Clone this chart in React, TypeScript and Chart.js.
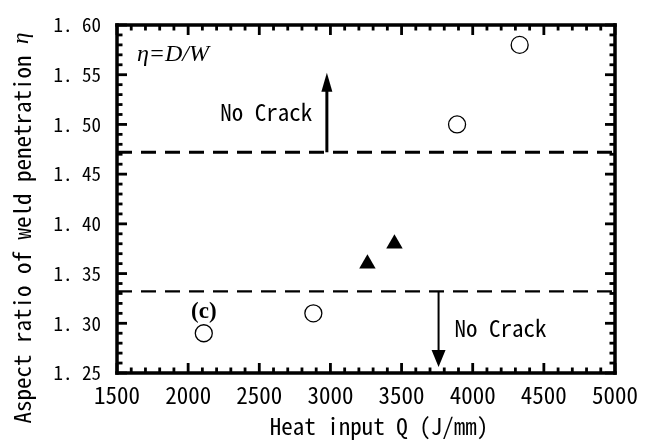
import React, { useEffect, useRef } from "react";
import { Chart, registerables } from "chart.js";

Chart.register(...registerables);

// Heat input Q (J/mm) and aspect ratio η = D/W
const crackFreeQ = [2110, 2880, 3890, 4330];
const crackFreeEta = [1.29, 1.31, 1.5, 1.58];
const crackedQ = [3260, 3450];
const crackedEta = [1.36, 1.38];

// Crack-free limits of η
const upperLimit = 1.472;
const lowerLimit = 1.332;

const xMin = 1500;
const xMax = 5000;
const yMin = 1.25;
const yMax = 1.6;

const MONO = "'Noto Sans Mono CJK JP'";
const SERIF = "'Liberation Serif'";

const overlay = {
  id: "overlay",
  afterDatasetsDraw(chart: any) {
    const { ctx, chartArea: a, scales } = chart;
    const x = scales.x;
    const y = scales.y;
    ctx.save();
    ctx.strokeStyle = "#000";
    ctx.fillStyle = "#000";

    // threshold lines
    const yu = y.getPixelForValue(upperLimit);
    const yl = y.getPixelForValue(lowerLimit);
    ctx.setLineDash([15, 9]);
    ctx.lineWidth = 3;
    ctx.beginPath();
    ctx.moveTo(a.left, yu);
    ctx.lineTo(a.right, yu);
    ctx.stroke();
    ctx.lineWidth = 2.2;
    ctx.beginPath();
    ctx.moveTo(a.left, yl);
    ctx.lineTo(a.right, yl);
    ctx.stroke();
    ctx.setLineDash([]);

    // arrows
    const arrow = (xv: number, from: number, to: number, lw: number, hw: number, hh: number) => {
      const px = x.getPixelForValue(xv);
      const p0 = y.getPixelForValue(from);
      const p1 = y.getPixelForValue(to);
      const dir = p1 < p0 ? 1 : -1;
      ctx.lineWidth = lw;
      ctx.beginPath();
      ctx.moveTo(px, p0);
      ctx.lineTo(px, p1 + dir * hh * 0.8);
      ctx.stroke();
      ctx.beginPath();
      ctx.moveTo(px, p1);
      ctx.lineTo(px - hw / 2, p1 + dir * hh);
      ctx.lineTo(px + hw / 2, p1 + dir * hh);
      ctx.closePath();
      ctx.fill();
    };
    arrow(2975, upperLimit, 1.552, 3, 11, 19);
    arrow(3760, lowerLimit, 1.256, 2, 14, 17);

    // frame
    const fw = 3.5;
    ctx.fillRect(a.left - fw / 2, a.top - fw / 2, a.right - a.left + fw, fw);
    ctx.fillRect(a.left - fw / 2, a.bottom - fw / 2, a.right - a.left + fw, fw);
    ctx.fillRect(a.left - fw / 2, a.top - fw / 2, fw, a.bottom - a.top + fw);
    ctx.fillRect(a.right - fw / 2, a.top - fw / 2, fw, a.bottom - a.top + fw);

    // inward ticks on all four sides
    const tw = 2.8;
    for (let v = xMin; v <= xMax + 1e-6; v += 100) {
      const px = x.getPixelForValue(v);
      const len = Math.round(v) % 500 === 0 ? 10 : 5.5;
      ctx.fillRect(px - tw / 2, a.bottom - len, tw, len);
      ctx.fillRect(px - tw / 2, a.top, tw, len);
    }
    for (let i = 0; i <= Math.round((yMax - yMin) / 0.01); i++) {
      const py = y.getPixelForValue(yMin + i * 0.01);
      const len = i % 5 === 0 ? 10 : 5.5;
      ctx.fillRect(a.left, py - tw / 2, len, tw);
      ctx.fillRect(a.right - len, py - tw / 2, len, tw);
    }

    // annotations
    ctx.font = `23px ${MONO}`;
    ctx.textBaseline = "middle";
    ctx.textAlign = "right";
    ctx.fillText("No Crack", x.getPixelForValue(2872), y.getPixelForValue(1.5125));
    ctx.textAlign = "left";
    ctx.fillText("No Crack", x.getPixelForValue(3872), y.getPixelForValue(1.295));

    ctx.textBaseline = "alphabetic";
    ctx.font = `italic 24px ${SERIF}`;
    ctx.fillText("η=D/W", x.getPixelForValue(1640), y.getPixelForValue(1.564));

    ctx.textAlign = "center";
    ctx.textBaseline = "middle";
    ctx.font = `bold 23px ${SERIF}`;
    ctx.fillText("(c)", x.getPixelForValue(2110), y.getPixelForValue(1.3116));

    // tick labels
    ctx.font = `23px ${MONO}`;
    ctx.textAlign = "center";
    ctx.textBaseline = "middle";
    for (let v = xMin; v <= xMax + 1e-6; v += 500) {
      ctx.fillText(String(v), x.getPixelForValue(v), a.bottom + 22);
    }
    ctx.font = `19px ${MONO}`;
    ctx.textAlign = "right";
    for (let i = 0; i <= 7; i++) {
      const v = yMin + i * 0.05;
      ctx.fillText(v.toFixed(2).replace(".", ". "), a.left - 16, y.getPixelForValue(v));
    }

    // x title
    ctx.font = `23px ${MONO}`;
    ctx.textAlign = "center";
    ctx.fillText("Heat input Q (J/mm)", (a.left + a.right) / 2 + 13, 426);

    // y title, rotated, with italic η
    const main = "Aspect ratio of weld penetration ";
    ctx.font = `23px ${MONO}`;
    const w1 = ctx.measureText(main).width;
    ctx.font = `italic 23px ${SERIF}`;
    const w2 = ctx.measureText("η").width;
    ctx.translate(22, 228);
    ctx.rotate(-Math.PI / 2);
    const start = -(w1 + w2) / 2;
    ctx.textAlign = "left";
    ctx.font = `23px ${MONO}`;
    ctx.fillText(main, start, 0);
    ctx.font = `italic 23px ${SERIF}`;
    ctx.fillText("η", start + w1, 0);
    ctx.restore();
  },
};

export default function App() {
  const ref = useRef<HTMLCanvasElement>(null);

  useEffect(() => {
    document.body.style.margin = "0";
    const chart = new Chart(ref.current!, {
      type: "scatter",
      data: {
        datasets: [
          {
            label: "No crack",
            data: crackFreeQ.map((q, i) => ({ x: q, y: crackFreeEta[i] })),
            pointStyle: "circle",
            pointRadius: 8.5,
            borderColor: "#000",
            backgroundColor: "#fff",
            borderWidth: 1.3,
          },
          {
            label: "Crack",
            data: crackedQ.map((q, i) => ({ x: q, y: crackedEta[i] })),
            pointStyle: "triangle",
            pointRadius: 9.5,
            borderColor: "#000",
            backgroundColor: "#000",
            borderWidth: 0,
          },
        ],
      },
      options: {
        animation: false,
        responsive: false,
        devicePixelRatio: 1,
        layout: { padding: { left: 117, top: 25, right: 38, bottom: 71 } },
        plugins: { legend: { display: false }, tooltip: { enabled: false } },
        scales: {
          x: {
            type: "linear",
            min: xMin,
            max: xMax,
            display: false,
          },
          y: {
            type: "linear",
            min: yMin,
            max: yMax,
            display: false,
          },
        },
      },
      plugins: [overlay],
    });
    return () => chart.destroy();
  }, []);

  return <canvas ref={ref} width={653} height={444} />;
}
